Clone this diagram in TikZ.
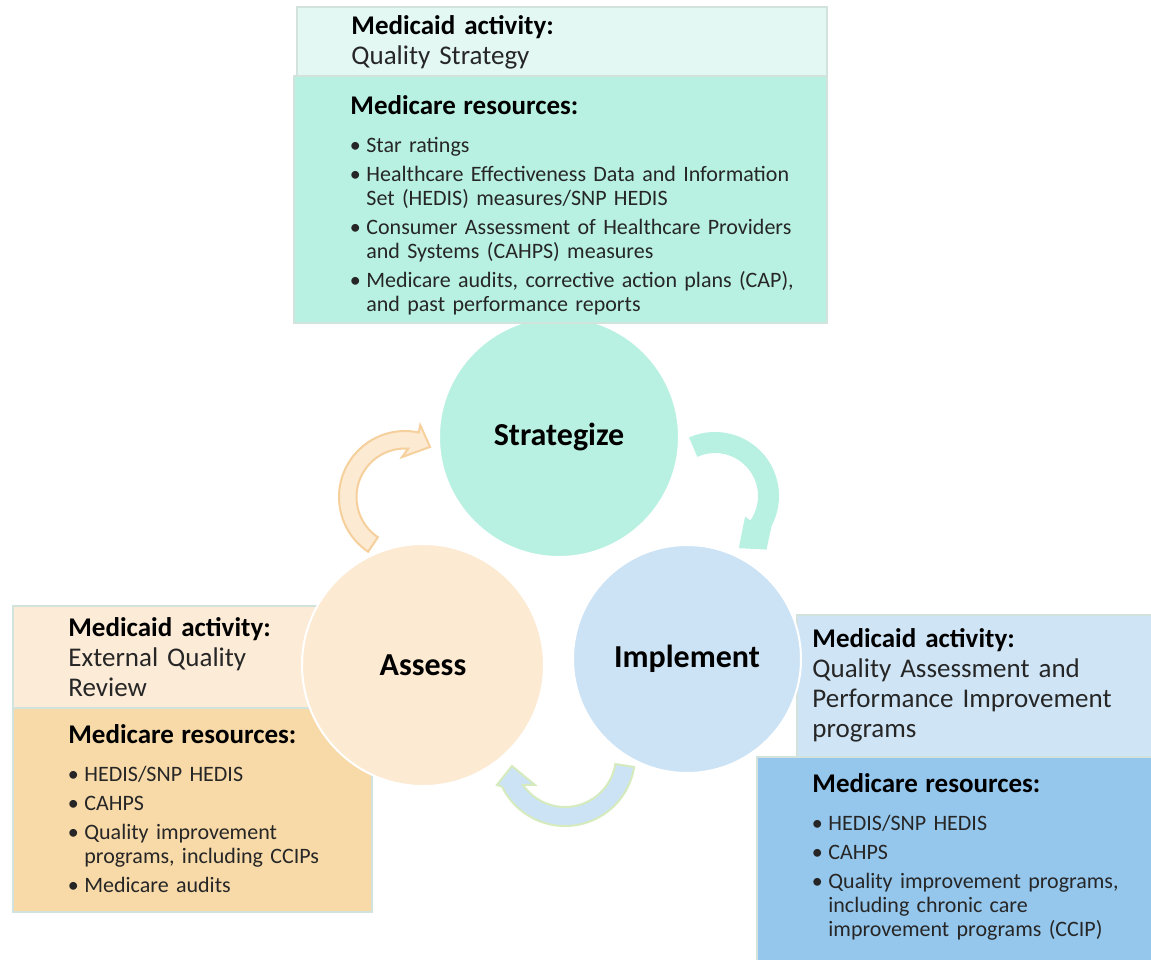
\documentclass[tikz,border=0pt]{standalone}
\usepackage{fontspec}
\setmainfont{Carlito}
\usepackage{tikz}
\usetikzlibrary{calc}
\usepackage{xcolor}
\definecolor{stratfill}{HTML}{B8F1E2}
\definecolor{stratpale}{HTML}{E3F8F3}
\definecolor{assessfill}{HTML}{FCEAD3}
\definecolor{assesspale}{HTML}{FCEBD7}
\definecolor{assessdeep}{HTML}{F8DAA9}
\definecolor{implfill}{HTML}{CCE3F5}
\definecolor{implpale}{HTML}{CFE5F6}
\definecolor{impldeep}{HTML}{95C6EC}
\definecolor{boxline}{HTML}{D2E2DC}
\definecolor{bodytext}{HTML}{262626}
\definecolor{orangeline}{HTML}{F6D09C}
\definecolor{blueline}{HTML}{D5EBBE}
\newcommand{\acthead}{{\bfseries\color{black}Medicaid activity:}}
\newcommand{\reshead}{{\fontsize{13.5}{15}\selectfont\bfseries\color{black}Medicare resources:\par}\vspace{4.5pt}}
\newcommand{\resitem}[1]{\vspace{2.5pt}\hangindent=8pt\hangafter=1\noindent\makebox[8pt][l]{\hspace{-0.3pt}\textbullet}#1\par}

\begin{document}
\begin{tikzpicture}[x=0.5pt, y=-0.5pt,
    panel/.style={draw=boxline, line width=1pt},
    phase/.style={circle, draw=white, line width=1pt, inner sep=0pt,
                  font=\fontsize{16}{18}\selectfont\bfseries, text=black},
    acttext/.style={anchor=base west, inner sep=0pt, text width=#1, align=left,
                    font=\fontsize{13.5}{15}\selectfont, text=bodytext},
    restext/.style={anchor=base west, inner sep=0pt, text width=#1, align=left,
                    font=\fontsize{11}{12}\selectfont, text=bodytext},
    turn/.style={line width=1pt, line join=miter}
]
\useasboundingbox (0,0) rectangle (1151,959);

% side panels sit under the circles
\filldraw[panel, fill=assesspale] (13,606) rectangle (330,708);
\filldraw[panel, fill=assessdeep] (13,708) rectangle (372,912);
\filldraw[panel, fill=implpale] (797,615) rectangle (1170,757);
\filldraw[panel, fill=impldeep] (757,757) rectangle (1170,980);

\node[phase, fill=stratfill, minimum size=120pt] (strat) at (559,437) {Strategize};
\node[phase, fill=assessfill, minimum size=121pt] (assess) at (423,665) {Assess};
\node[phase, fill=implfill, minimum size=114pt] (impl) at (687,659) {Implement};

% top panel
\filldraw[panel, fill=stratpale] (297,7) rectangle (827,76);
\filldraw[panel, fill=stratfill] (294,76) rectangle (827,323);

\node[acttext=230pt] (stratact) at (351,34) {\acthead\\Quality Strategy};
\node[restext=235pt] (stratres) at (350,114) {\reshead
    \resitem{Star ratings}
    \resitem{Healthcare Effectiveness Data and Information\newline Set (HEDIS) measures/SNP HEDIS}
    \resitem{Consumer Assessment of Healthcare Providers\newline and Systems (CAHPS) measures}
    \resitem{Medicare audits, corrective action plans (CAP),\newline and past performance reports}};

\node[acttext=140pt] (assessact) at (68,636) {\acthead\\External Quality\\Review};
\node[restext=148pt] (assessres) at (68,743) {\reshead
    \resitem{HEDIS/SNP HEDIS}
    \resitem{CAHPS}
    \resitem{Quality improvement\newline programs, including CCIPs}
    \resitem{Medicare audits}};

\node[acttext=165pt] (implact) at (812,647) {\acthead\\Quality Assessment and\\Performance Improvement\\programs};
\node[restext=165pt] (implres) at (812,792) {\reshead
    \resitem{HEDIS/SNP HEDIS}
    \resitem{CAHPS}
    \resitem{Quality improvement programs,\newline including chronic care\newline improvement programs (CCIP)}};

% curved block arrows between the phases
\coordinate (a2s) at (405,497);
\coordinate (s2i) at (715,496);
\coordinate (i2a) at (565,756);

\filldraw[turn, draw=orangeline, fill=assessfill]
    ($(a2s)+(124:66)$) arc[start angle=124, end angle=282, radius=66]
    -- ($(a2s)+(282:73.5)$) -- ($(a2s)+(296.6:56)$) -- ($(a2s)+(265.7:40)$)
    -- ($(a2s)+(273.8:48.5)$) arc[start angle=273.8, end angle=124, radius=48.5] -- cycle;
\filldraw[turn, draw=stratfill, fill=stratfill]
    ($(s2i)+(247:63)$) arc[start angle=247, end angle=388, radius=63]
    -- ($(s2i)+(406:73)$) -- ($(s2i)+(424:57)$) -- ($(s2i)+(396:38)$)
    -- ($(s2i)+(396:44)$) arc[start angle=396, end angle=247, radius=44] -- cycle;
\filldraw[turn, draw=blueline, fill=implfill]
    ($(i2a)+(9:70)$) arc[start angle=9, end angle=154, radius=70]
    -- ($(i2a)+(157:74)$) -- ($(i2a)+(169.3:54)$) -- ($(i2a)+(136:41.7)$)
    -- ($(i2a)+(145.4:51)$) arc[start angle=145.4, end angle=9, radius=51] -- cycle;
\end{tikzpicture}
\end{document}
